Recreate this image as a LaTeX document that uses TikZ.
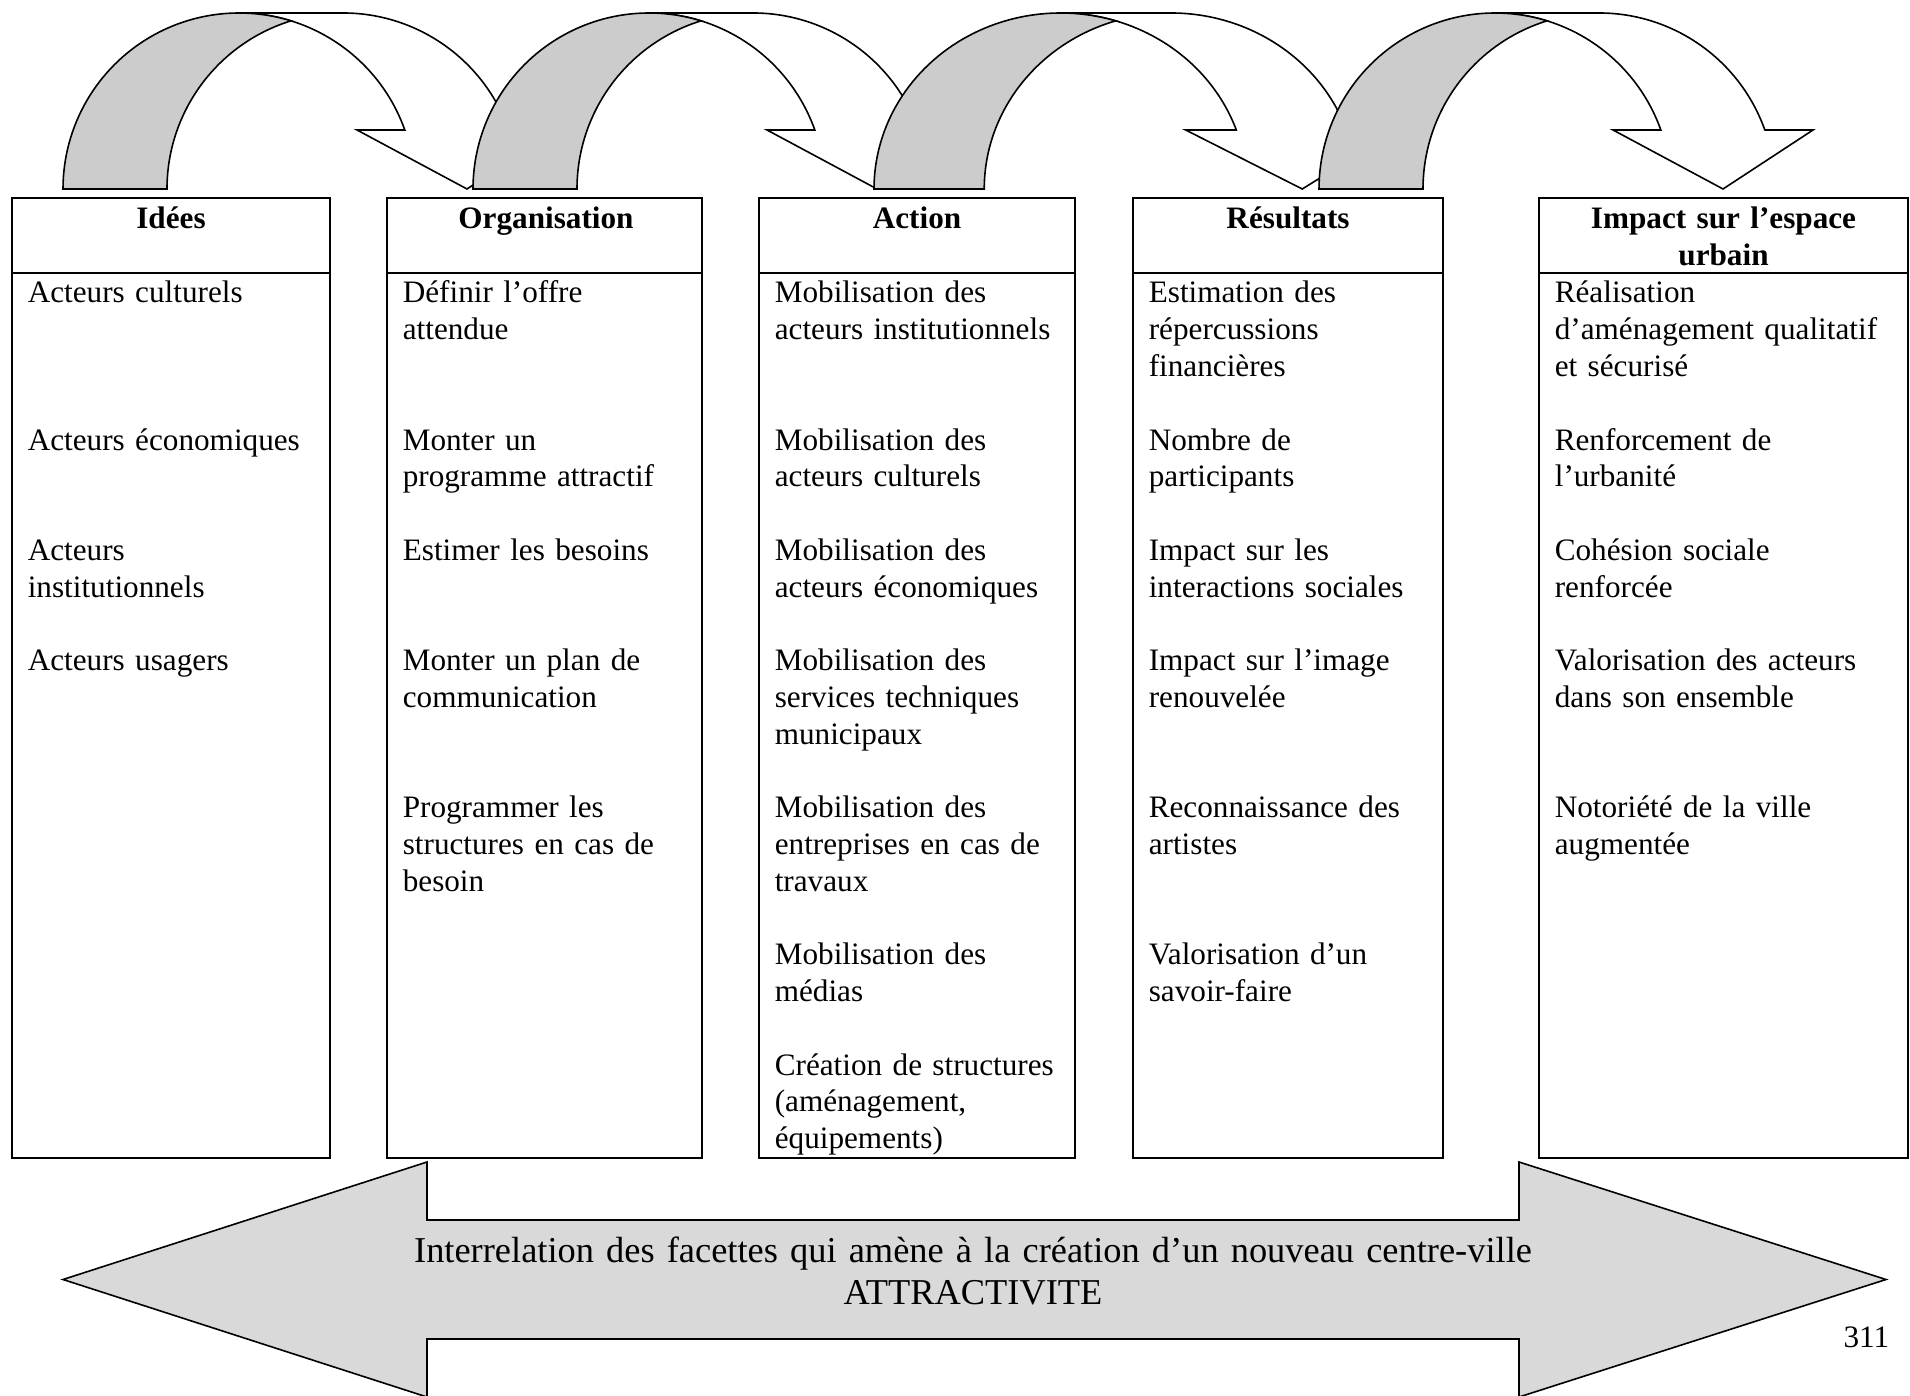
\documentclass[tikz,border=0pt]{standalone}
\usepackage{fontspec}
\setmainfont{Liberation Serif}
\begin{document}
\begin{tikzpicture}[x=0.375pt, y=-0.375pt, line width=0.6pt,
    every node/.style={inner sep=0pt, font=\fontsize{11.7}{13.79}\selectfont},
    head/.style={anchor=base, text width=112pt, align=center, font=\fontsize{11.7}{13.79}\selectfont\bfseries},
    item/.style={anchor=base west, text width=140pt, align=left},
    band/.style={fill=gray!40, draw=black}]
    \useasboundingbox (0,0) rectangle (1910,1396);
    % curved arrows between the columns
    \foreach \xo/\sx in {63/1, 473/1, 874/1.06, 1319/1} {
        \filldraw[fill=white] (\xo+404*\sx,189) -- (\xo+294*\sx,130) -- (\xo+341.8*\sx,130)
            arc[start angle=-19.585, end angle=-90, x radius=176*\sx, y radius=176]
            -- ++(104*\sx,0)
            arc[start angle=-90, end angle=-19.585, x radius=176*\sx, y radius=176]
            -- (\xo+494*\sx,130) -- cycle;
        \filldraw[band] (\xo,189)
            arc[start angle=-180, end angle=-72.815, x radius=176*\sx, y radius=176]
            arc[start angle=-107.185, end angle=-180, x radius=176*\sx, y radius=176]
            -- cycle;
    }
    % columns
    \foreach \l/\r in {12/330, 387/702, 759/1075, 1133/1443, 1539/1908} {
        \draw (\l,198) rectangle (\r,1158);
        \draw (\l,273) -- (\r,273);
    }
    \node[head] (hIdees) at (171,229) {Idées};
    \node[head] (hOrga) at (546,229) {Organisation};
    \node[head] (hAction) at (917,229) {Action};
    \node[head] (hResult) at (1288,229) {Résultats};
    \node[head] (hImpact) at (1723.5,229) {Impact sur l’espace\\urbain};

    \node[item] (idees1) at (27,303) {Acteurs culturels};
    \node[item] (idees2) at (27,450.1) {Acteurs économiques};
    \node[item] (idees3) at (27,560.4) {Acteurs\\institutionnels};
    \node[item] (idees4) at (27,670.7) {Acteurs usagers};

    \node[item] (orga1) at (402,303) {Définir l’offre\\attendue};
    \node[item] (orga2) at (402,450.1) {Monter un\\programme attractif};
    \node[item] (orga3) at (402,560.4) {Estimer les besoins};
    \node[item] (orga4) at (402,670.7) {Monter un plan de\\communication};
    \node[item] (orga5) at (402,817.8) {Programmer les\\structures en cas de\\besoin};

    \node[item] (action1) at (774,303) {Mobilisation des\\acteurs institutionnels};
    \node[item] (action2) at (774,450.1) {Mobilisation des\\acteurs culturels};
    \node[item] (action3) at (774,560.4) {Mobilisation des\\acteurs économiques};
    \node[item] (action4) at (774,670.7) {Mobilisation des\\services techniques\\municipaux};
    \node[item] (action5) at (774,817.8) {Mobilisation des\\entreprises en cas de\\travaux};
    \node[item] (action6) at (774,964.9) {Mobilisation des\\médias};
    \node[item] (action7) at (774,1075.2) {Création de structures\\(aménagement,\\équipements)};

    \node[item] (result1) at (1148,303) {Estimation des\\répercussions\\financières};
    \node[item] (result2) at (1148,450.1) {Nombre de\\participants};
    \node[item] (result3) at (1148,560.4) {Impact sur les\\interactions sociales};
    \node[item] (result4) at (1148,670.7) {Impact sur l’image\\renouvelée};
    \node[item] (result5) at (1148,817.8) {Reconnaissance des\\artistes};
    \node[item] (result6) at (1148,964.9) {Valorisation d’un\\savoir-faire};

    \node[item] (impact1) at (1554,303) {Réalisation\\d’aménagement qualitatif\\et sécurisé};
    \node[item] (impact2) at (1554,450.1) {Renforcement de\\l’urbanité};
    \node[item] (impact3) at (1554,560.4) {Cohésion sociale\\renforcée};
    \node[item] (impact4) at (1554,670.7) {Valorisation des acteurs\\dans son ensemble};
    \node[item] (impact5) at (1554,817.8) {Notoriété de la ville\\augmentée};

    % double arrow at the bottom
    \filldraw[fill=gray!30] (63,1279.5) -- (427,1162) -- (427,1220) -- (1519,1220) -- (1519,1162)
        -- (1886,1279.5) -- (1519,1397) -- (1519,1339) -- (427,1339) -- (427,1397) -- cycle;
    \node[anchor=base, text width=480pt, align=center, font=\fontsize{13.65}{16.1}\selectfont] (attract) at (973,1262)
        {Interrelation des facettes qui amène à la création d’un nouveau centre-ville\\ATTRACTIVITE};
    \node[anchor=base east] (page) at (1890,1347) {311};
\end{tikzpicture}
\end{document}
